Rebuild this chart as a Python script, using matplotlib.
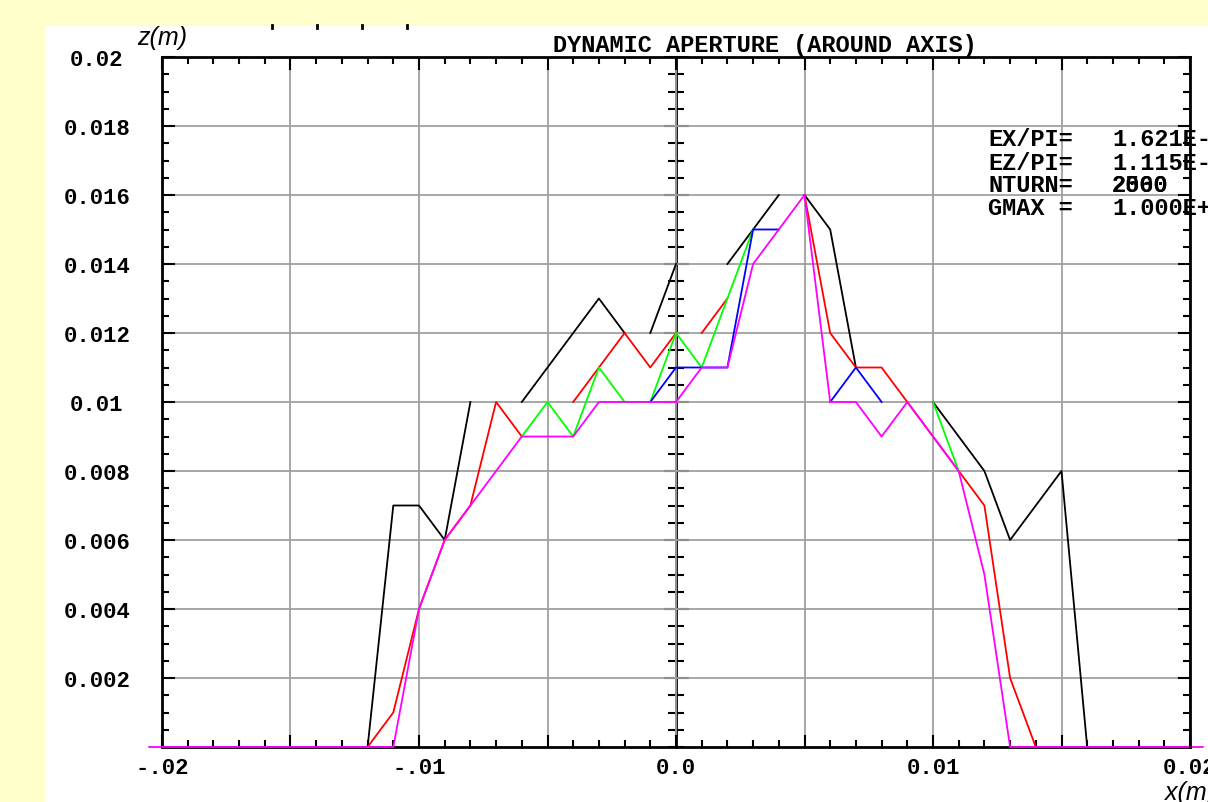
import numpy as np
import matplotlib
matplotlib.use("Agg")
import matplotlib.pyplot as plt
from matplotlib.patches import Rectangle
from matplotlib.lines import Line2D
from matplotlib.ticker import MultipleLocator

# data in units of 1e-3 m, None breaks the line
black_x = [-12, -11, -10, -9, -8, None, -6, -5, -4, -3, -2, None, -1, 0, None,
           2, 3, 4, None, 5, 6, 7, None, 10, 11, 12, 13, 14, 15, 16]
black_z = [0, 7, 7, 6, 10, None, 10, 11, 12, 13, 12, None, 12, 14, None,
           14, 15, 16, None, 16, 15, 11, None, 10, 9, 8, 6, 7, 8, 0]

red_x = [-12, -11, -10, -9, -8, -7, -6, None, -4, -3, -2, -1, 0, None, 1, 2, None,
         5, 6, 7, 8, 9, 10, 11, 12, 13, 14]
red_z = [0, 1, 4, 6, 7, 10, 9, None, 10, 11, 12, 11, 12, None, 12, 13, None,
         16, 12, 11, 11, 10, 9, 8, 7, 2, 0]

green_x = [-6, -5, -4, -3, -2, -1, 0, 1, 2, 3, None, 10, 11]
green_z = [9, 10, 9, 11, 10, 10, 12, 11, 13, 15, None, 10, 8]

blue_x = [-1, 0, 1, 2, 3, 4, None, 6, 7, 8]
blue_z = [10, 11, 11, 11, 15, 15, None, 10, 11, 10]

magenta_x = [-20.5, -11, -10, -9, -8, -7, -6, -5, -4, -3, -2, -1, 0, 1, 2, 3, 4,
             5, 6, 7, 8, 9, 10, 11, 12, 13, 20.5]
magenta_z = [0, 0, 4, 6, 7, 8, 9, 9, 9, 10, 10, 10, 10, 11, 11, 14, 15,
             16, 10, 10, 9, 10, 9, 8, 5, 0, 0]

series = [(black_x, black_z, "black"), (red_x, red_z, "#ff0000"),
          (green_x, green_z, "#00ff00"), (blue_x, blue_z, "#0000ff"),
          (magenta_x, magenta_z, "#ff00ff")]

y_ticks = [0.02, 0.018, 0.016, 0.014, 0.012, 0.01, 0.008, 0.006, 0.004, 0.002]
y_labels = ["0.02", "0.018", "0.016", "0.014", "0.012", "0.01", "0.008", "0.006", "0.004", "0.002"]
x_ticks = [-0.02, -0.01, 0.0, 0.01, 0.02]
x_labels = ["-.02", "-.01", "0.0", "0.01", "0.02"]

info_keys = ["EX/PI=", "EZ/PI=", "NTURN=", "GMAX ="]
info_vals = ["1.621E-05", "1.115E-05", "2000", "1.000E+00"]

W, H = 1208, 803
mono = "Liberation Mono"

fig = plt.figure(figsize=(W / 100, H / 100), dpi=100, facecolor="#ffffcc")
fig.patches.append(Rectangle((45 / W, 0), 1, 1 - 27 / H, transform=fig.transFigure,
                             facecolor="white", edgecolor="none", zorder=-10))
for px in [272, 317, 362, 407]:
    fig.add_artist(Line2D([px / W, px / W], [1 - 26 / H, 1 - 29 / H], color="black", lw=2))

ax = fig.add_axes([162 / W, 1 - 748 / H, (1190 - 162) / W, (748 - 58) / H])
ax.set_xlim(-0.02, 0.02)
ax.set_ylim(0, 0.02)

def to_m(v):
    return [np.nan if a is None else a * 1e-3 for a in v]

for xs, zs, c in series:
    ax.plot(to_m(xs), to_m(zs), color=c, lw=1.3, clip_on=False, zorder=3)

# grid
ax.xaxis.set_major_locator(MultipleLocator(0.005))
ax.xaxis.set_minor_locator(MultipleLocator(0.001))
ax.yaxis.set_minor_locator(MultipleLocator(0.0005))
ax.set_yticks(y_ticks)
ax.set_yticklabels(y_labels)
for t in ax.get_yticklabels():
    t.set_horizontalalignment("center")
xt = np.arange(-0.02, 0.0201, 0.005)
ax.set_xticks(xt)
ax.set_xticklabels([x_labels[x_ticks.index(round(v, 3))] if round(v, 3) in x_ticks else ""
                    for v in xt])
ax.grid(True, which="major", color="#a0a0a0", lw=1.3, zorder=1)
ax.set_axisbelow(True)

ax.tick_params(axis="both", which="both", direction="in", top=True, right=True,
               color="black", width=1.5)
ax.tick_params(which="major", length=9)
ax.tick_params(which="minor", length=5)
ax.tick_params(axis="y", which="major", pad=47, labelsize=16)
ax.tick_params(axis="x", which="major", pad=7, labelsize=16)
for t in ax.get_xticklabels() + ax.get_yticklabels():
    t.set_fontfamily(mono)
    t.set_fontweight("bold")
for s in ax.spines.values():
    s.set_linewidth(2)
ax.spines["right"].set_zorder(5)

# centre axis at x = 0
sec = ax.secondary_yaxis(0.5)
sec.set_yticks(y_ticks)
sec.set_yticklabels([])
sec.yaxis.set_minor_locator(MultipleLocator(0.0005))
sec.tick_params(axis="y", which="both", direction="inout", labelleft=False,
                labelright=False, width=1.5)
sec.tick_params(which="major", length=18)
sec.tick_params(which="minor", length=11)
for s in sec.spines.values():
    s.set_linewidth(2)

ax.set_title("DYNAMIC APERTURE (AROUND AXIS)", fontfamily=mono, fontweight="bold",
             fontsize=17, x=(765 - 162) / (1190 - 162), pad=4)

fig.text(137 / W, 1 - 38 / H, "z(m)", fontfamily="Liberation Sans", style="italic",
         fontsize=18, va="center", ha="left")
fig.text(1165 / W, 1 - 793 / H, "x(m)", fontfamily="Liberation Sans", style="italic",
         fontsize=18, va="center", ha="left")

for i, (k, v) in enumerate(zip(info_keys, info_vals)):
    y = 1 - (140 + 23 * i) / H
    fig.text(988 / W, y, k, fontfamily=mono, fontweight="bold", fontsize=17, va="center")
    fig.text(1112 / W, y, v, fontfamily=mono, fontweight="bold", fontsize=17, va="center")
fig.text(1112 / W, 1 - 186 / H, "2560", fontfamily=mono, fontweight="bold", fontsize=17,
         va="center")

fig.savefig("out.png", dpi=100, facecolor=fig.get_facecolor())
